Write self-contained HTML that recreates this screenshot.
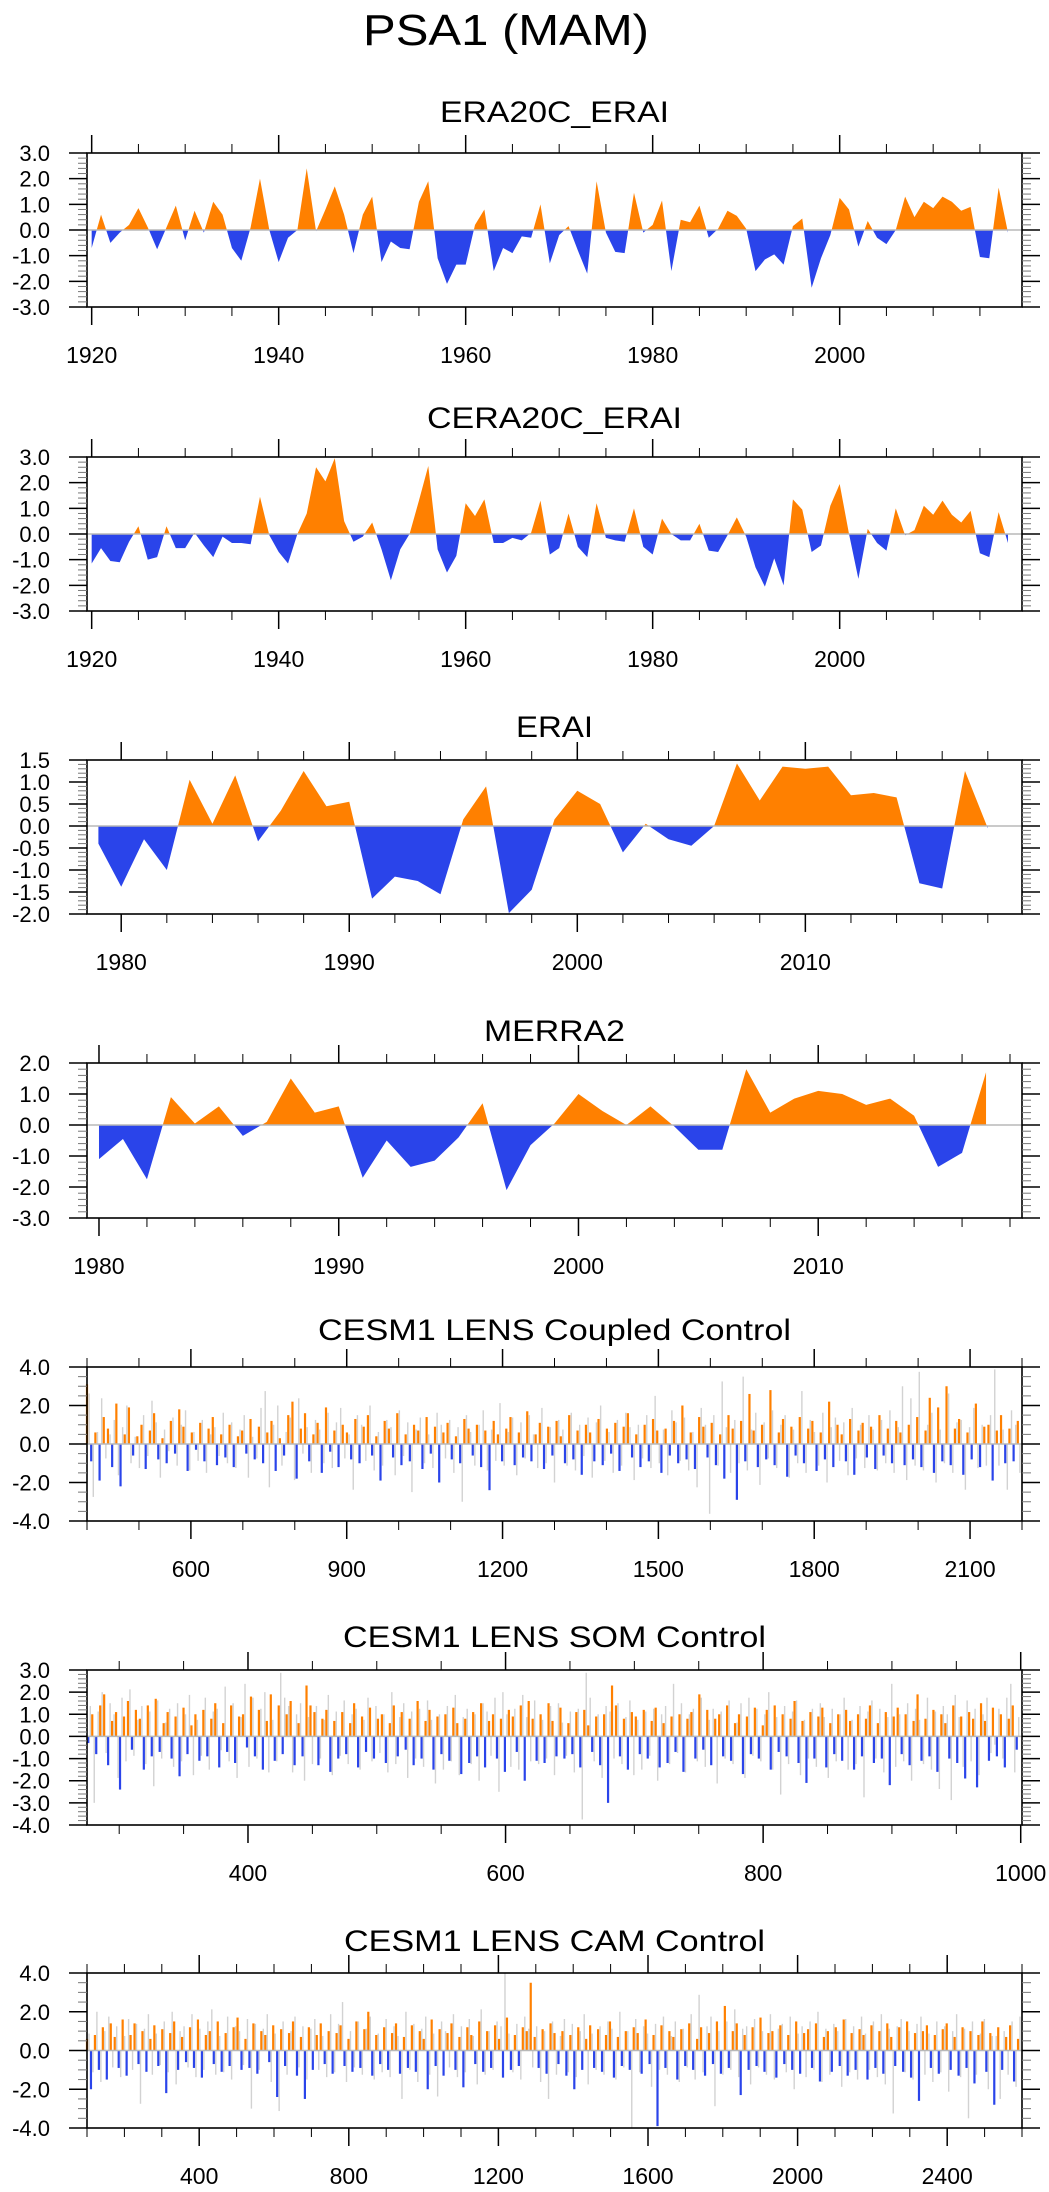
<!DOCTYPE html>
<html><head><meta charset="utf-8"><title>PSA1 (MAM)</title>
<style>
html,body{margin:0;padding:0;background:#fff;}
svg{display:block;font-family:"Liberation Sans",Arial,sans-serif;}
</style></head>
<body>
<svg id="fig" width="1049" height="2192" viewBox="0 0 1049 2192" xmlns="http://www.w3.org/2000/svg">
<text x="506" y="45" font-size="44" text-anchor="middle" textLength="286" lengthAdjust="spacingAndGlyphs">PSA1 (MAM)</text>
</svg>
<script>
// ---- data ----
const era20cYears = [1920, 2018];
const era20cValues = [-0.7,0.6,-0.5,-0.1,0.2,0.85,0.1,-0.75,0.1,0.95,-0.4,0.75,-0.1,1.1,0.6,-0.7,-1.2,0.1,2.0,0.0,-1.25,-0.3,0.0,2.4,-0.05,0.8,1.7,0.6,-0.9,0.6,1.3,-1.25,-0.45,-0.7,-0.75,1.1,1.9,-1.1,-2.1,-1.35,-1.35,0.2,0.8,-1.6,-0.7,-0.9,-0.25,-0.3,1.0,-1.3,-0.2,0.15,-0.8,-1.7,1.9,-0.1,-0.85,-0.9,1.45,-0.1,0.2,1.15,-1.6,0.4,0.3,0.95,-0.3,0.05,0.75,0.55,0.05,-1.6,-1.15,-0.95,-1.35,0.15,0.45,-2.25,-1.1,-0.2,1.25,0.8,-0.65,0.35,-0.3,-0.55,0.0,1.3,0.5,1.1,0.85,1.3,1.1,0.75,0.9,-1.05,-1.1,1.65,-0.1];
const cera20cYears = [1920, 2018];
const cera20cValues = [-1.15,-0.55,-1.05,-1.1,-0.3,0.3,-1.0,-0.9,0.3,-0.55,-0.55,0.05,-0.45,-0.9,-0.1,-0.35,-0.35,-0.4,1.45,-0.05,-0.7,-1.15,0.0,0.8,2.6,2.05,2.95,0.5,-0.3,-0.1,0.45,-0.6,-1.8,-0.6,0.0,1.3,2.65,-0.6,-1.5,-0.85,1.2,0.7,1.35,-0.35,-0.35,-0.15,-0.25,0.05,1.3,-0.8,-0.55,0.8,-0.5,-0.9,1.2,-0.15,-0.25,-0.3,1.0,-0.5,-0.8,0.6,0.0,-0.25,-0.25,0.4,-0.65,-0.7,-0.05,0.65,-0.1,-1.3,-2.05,-0.95,-2.0,1.35,0.95,-0.7,-0.45,1.1,1.95,0.0,-1.75,0.2,-0.35,-0.65,1.0,-0.05,0.15,1.1,0.75,1.3,0.75,0.45,0.9,-0.75,-0.9,0.85,-0.35];
const eraiYears = [1979, 2018];
const eraiValues = [-0.4,-1.38,-0.3,-1.0,1.05,0.05,1.15,-0.35,0.35,1.25,0.45,0.55,-1.65,-1.15,-1.25,-1.55,0.15,0.9,-1.98,-1.45,0.15,0.8,0.5,-0.6,0.05,-0.3,-0.45,0.0,1.42,0.58,1.35,1.3,1.35,0.7,0.75,0.65,-1.3,-1.42,1.25,-0.05];
const merra2Years = [1980, 2017];
const merra2Values = [-1.1,-0.45,-1.75,0.9,0.05,0.6,-0.35,0.1,1.5,0.4,0.6,-1.7,-0.5,-1.35,-1.15,-0.4,0.7,-2.1,-0.65,0.05,1.0,0.45,0.0,0.6,-0.05,-0.8,-0.8,1.8,0.4,0.85,1.1,1.0,0.65,0.85,0.3,-1.35,-0.9,1.7];
const coupledYears = [400, 2200];
const coupledValues = [3.1,-0.9,0.6,-1.9,1.4,0.8,-1.2,2.1,-2.2,0.5,1.9,-0.6,0.4,1.0,-1.3,0.7,1.6,-0.8,0.3,-1.0,1.2,-0.5,1.8,0.9,-1.4,0.6,-0.3,1.1,-0.9,0.8,1.4,-1.1,0.5,-0.7,1.0,-1.2,0.4,0.7,-0.5,1.3,-0.8,0.9,-1.0,0.6,1.2,-1.4,0.3,-0.6,1.5,2.2,-1.8,0.8,1.6,-0.9,0.5,1.1,-1.5,1.9,-0.4,0.7,-1.2,1.0,0.6,-0.8,1.3,-1.0,0.9,1.5,-0.6,0.4,-1.9,1.2,0.8,-0.7,1.6,-1.1,0.5,-0.9,1.0,0.7,-1.3,1.4,-0.5,0.9,-2.0,0.6,1.1,-0.8,0.4,-1.0,1.3,0.8,-0.6,1.0,-1.2,0.7,-2.4,1.2,0.5,-0.9,0.8,1.4,-1.1,0.6,-0.7,1.7,-0.9,0.5,1.1,-1.3,0.9,-0.6,1.2,0.4,-1.0,1.5,-0.8,0.7,-1.6,1.0,0.6,-0.9,1.3,-1.1,0.8,-0.5,1.1,-1.4,0.9,1.6,-0.7,0.5,-1.2,1.0,-0.9,1.3,0.7,-1.5,0.8,-0.6,1.2,-1.0,2.0,-0.8,0.6,-1.3,1.4,0.9,-0.7,1.1,-1.1,0.5,-1.8,1.5,0.8,-2.9,1.2,-0.9,2.6,0.7,-1.2,1.0,-0.8,2.8,-1.1,0.6,1.3,-1.7,0.9,-0.6,1.4,-1.0,0.8,1.2,-1.4,0.6,-0.8,2.2,-1.2,1.0,0.5,-0.9,1.3,-1.6,0.7,1.1,-0.7,0.9,-1.3,1.5,-0.6,0.8,-1.0,1.2,0.6,-1.1,1.0,-0.8,1.4,-1.2,0.7,2.4,-1.5,1.9,-0.9,3.0,-1.1,0.8,1.3,-1.6,0.6,-0.8,2.1,-1.2,0.9,1.0,-1.9,0.7,1.5,-1.0,0.8,-0.9,1.2];
const somYears = [276, 1000];
const somValues = [-0.3,1.0,-0.8,1.4,1.9,-1.3,0.7,1.1,-2.4,0.9,1.6,-0.6,1.2,0.8,-1.5,1.4,-0.9,1.7,-0.7,0.6,1.1,-1.0,0.9,-1.8,1.3,-0.8,0.5,1.0,-1.1,1.2,-0.9,0.8,1.5,-1.4,0.6,-0.7,1.4,-1.2,0.9,1.0,-0.5,1.8,-0.9,1.2,-1.5,0.7,1.9,-1.1,1.4,-0.8,1.0,1.6,-1.3,0.6,-0.9,2.3,1.4,1.1,-1.3,0.8,1.2,-1.6,0.7,-1.0,1.1,-0.8,0.6,1.5,-1.4,0.9,-0.7,1.3,-1.0,0.8,1.0,-1.2,0.6,1.4,-0.9,1.1,-0.6,0.8,-1.3,1.6,-1.0,0.7,1.2,-1.5,0.9,-0.8,1.0,-1.1,1.3,0.6,-1.7,0.8,-1.2,1.1,-0.9,1.5,-1.4,0.7,1.0,-1.0,0.8,-1.6,1.2,0.9,-0.7,1.4,-2.0,1.6,0.8,-1.1,1.0,-1.2,1.5,0.7,-0.9,1.3,-1.0,0.6,-0.8,1.1,-1.4,1.2,0.5,-0.7,0.9,-1.3,1.0,-3.0,2.3,1.4,-0.9,0.8,-1.5,1.1,0.9,-0.8,1.2,-1.0,0.7,1.3,-1.4,0.6,-1.2,0.9,-0.7,1.0,-1.6,0.8,1.1,-1.0,1.9,-0.6,1.2,-1.3,0.8,1.0,-0.9,1.4,-1.1,0.6,1.0,-1.7,0.9,-0.8,1.3,-1.0,0.5,1.2,-1.5,1.4,-0.7,1.0,-0.9,0.8,1.6,-1.2,0.7,-2.1,1.1,-1.0,0.9,1.3,-1.4,0.6,-0.8,1.0,-1.1,1.2,0.7,-1.5,1.0,-0.9,0.8,1.4,-1.2,0.6,-1.0,1.1,-2.2,0.9,1.3,-0.8,1.0,-1.3,0.7,1.9,-1.1,0.8,-0.9,1.2,-1.6,1.0,0.6,-1.0,1.4,-1.2,0.9,-1.9,1.1,0.8,-2.3,1.5,0.7,-1.1,1.3,-0.9,1.0,-1.4,0.8,1.4,-0.6];
const camYears = [100, 2600];
const camValues = [0.6,-2.0,0.8,-1.0,1.2,-1.5,1.4,0.7,-0.9,1.6,-1.3,0.8,1.4,-0.7,1.0,-1.1,0.6,1.3,-0.8,1.1,-2.2,0.9,1.5,-1.0,0.7,-0.6,1.2,-0.9,1.6,-1.4,0.8,1.0,-0.7,1.5,-1.1,0.9,-0.8,1.2,1.7,-1.0,0.6,-0.9,1.4,-1.2,1.0,0.8,-0.6,1.3,-2.4,1.1,-0.8,0.9,1.5,-1.3,0.7,-2.5,1.2,-1.0,0.8,1.4,-0.7,1.0,-1.2,0.9,1.3,-0.8,0.6,-1.1,1.5,-0.9,1.1,2.0,-1.3,0.8,-0.7,1.2,-1.0,0.9,1.4,-1.2,0.7,-0.9,1.3,-1.1,1.0,0.6,-2.0,1.6,-0.8,1.1,-1.3,0.9,1.4,-1.0,0.7,-1.9,1.2,0.8,-0.7,1.5,-1.1,1.0,-0.9,1.3,0.6,-1.4,1.7,-1.0,0.8,-0.8,1.2,1.0,3.5,0.7,-0.9,1.1,-1.2,1.4,0.9,-0.7,1.0,-1.3,0.8,-2.0,1.2,-1.0,0.6,1.3,-0.9,1.1,-1.1,0.8,1.5,-1.4,0.7,-0.8,1.0,-1.0,1.2,0.9,-1.2,1.6,-0.7,0.8,-3.9,1.3,-0.9,1.0,0.7,-1.5,1.1,-0.8,1.4,-1.0,0.6,1.2,-1.3,0.9,-0.7,1.5,-1.2,2.3,-0.9,1.0,1.4,-2.3,0.8,-1.0,1.2,-0.8,1.7,-1.1,0.9,1.0,-1.4,1.3,-0.7,0.8,-1.0,1.5,-1.2,0.9,1.1,-0.9,1.4,-1.6,0.7,1.0,-1.1,1.2,-0.8,1.6,-1.3,0.9,-1.0,1.1,0.8,-1.5,1.3,-0.9,1.0,-1.2,1.4,0.7,-0.8,1.2,-1.1,1.5,-1.4,0.9,-2.6,1.0,1.3,-0.9,0.8,-1.2,1.1,1.4,-1.0,0.7,-1.3,1.2,-0.9,1.0,-1.7,0.8,1.5,-1.1,0.9,-2.8,1.2,-1.0,0.7,1.3,-1.6,0.6];

// ---- layout ----
const NS = "http://www.w3.org/2000/svg";
const svg = document.getElementById('fig');
const L = 87, R = 1022;
const ORANGE = "#ff8000", BLUE = "#2a44ea";
function mk(tag, attrs, parent) {
  const e = document.createElementNS(NS, tag);
  for (const k in attrs) e.setAttribute(k, attrs[k]);
  (parent || svg).appendChild(e);
  return e;
}
const panels = [
  {id:'era20c-erai', title:'ERA20C_ERAI', tw:229, ty:122, top:153, bot:307, xmin:1919.5, xmax:2019.5, xmaj:20, xmin0:1920, xminor:5, ymin:-3, ymax:3, ymaj:1, yminor:0.2, yfmt:1, yrs:era20cYears, vals:era20cValues, type:'area'},
  {id:'cera20c-erai', title:'CERA20C_ERAI', tw:255, ty:428, top:457, bot:611, xmin:1919.5, xmax:2019.5, xmaj:20, xmin0:1920, xminor:5, ymin:-3, ymax:3, ymaj:1, yminor:0.2, yfmt:1, yrs:cera20cYears, vals:cera20cValues, type:'area'},
  {id:'erai', title:'ERAI', tw:77, ty:737, top:760, bot:914, xmin:1978.5, xmax:2019.5, xmaj:10, xmin0:1980, xminor:2, ymin:-2, ymax:1.5, ymaj:0.5, yminor:0.1, yfmt:1, yrs:eraiYears, vals:eraiValues, type:'area'},
  {id:'merra2', title:'MERRA2', tw:141, ty:1041, top:1063, bot:1218, xmin:1979.5, xmax:2018.5, xmaj:10, xmin0:1980, xminor:2, ymin:-3, ymax:2, ymaj:1, yminor:0.2, yfmt:1, yrs:merra2Years, vals:merra2Values, type:'area'},
  {id:'coupled-control', title:'CESM1 LENS Coupled Control', tw:473, ty:1340, top:1367, bot:1521, xmin:400, xmax:2200, xmaj:300, xmin0:600, xminor:100, ymin:-4, ymax:4, ymaj:2, yminor:0.5, yfmt:1, yrs:coupledYears, vals:coupledValues, type:'bar'},
  {id:'som-control', title:'CESM1 LENS SOM Control', tw:423, ty:1647, top:1670, bot:1825, xmin:275, xmax:1001, xmaj:200, xmin0:400, xminor:50, ymin:-4, ymax:3, ymaj:1, yminor:0.2, yfmt:1, yrs:somYears, vals:somValues, type:'bar'},
  {id:'cam-control', title:'CESM1 LENS CAM Control', tw:421, ty:1951, top:1973, bot:2128, xmin:100, xmax:2600, xmaj:400, xmin0:400, xminor:100, ymin:-4, ymax:4, ymaj:2, yminor:0.5, yfmt:1, yrs:camYears, vals:camValues, type:'bar'}
];

panels.forEach((p, pi) => {
  const g = mk('g', {});
  
  
  const xs = v => L + (v - p.xmin) / (p.xmax - p.xmin) * (R - L);
  const ys = v => p.bot - (v - p.ymin) / (p.ymax - p.ymin) * (p.bot - p.top);
  const z = ys(0);

  const t = mk('text', {x: (L + R) / 2, y: p.ty, 'font-size': 30, 'text-anchor': 'middle', textLength: p.tw, lengthAdjust: 'spacingAndGlyphs'}, g);
  t.textContent = p.title;
  
  

  const cidA = 'ca' + pi, cidB = 'cb' + pi;
  const defs = mk('defs', {}, g);
  const c1 = mk('clipPath', {id: cidA}, defs); mk('rect', {x: L, y: p.top, width: R - L, height: z - p.top}, c1);
  const c2 = mk('clipPath', {id: cidB}, defs); mk('rect', {x: L, y: z, width: R - L, height: p.bot - z}, c2);

  const n = p.vals.length;
  const series = mk('g', {}, g);
  
  
  if (p.type === 'area') {
    const step = (p.yrs[1] - p.yrs[0]) / (n - 1);
    let d = 'M' + xs(p.yrs[0]) + ',' + z;
    p.vals.forEach((v, i) => { d += ' L' + xs(p.yrs[0] + i * step).toFixed(2) + ',' + ys(v).toFixed(2); });
    d += ' L' + xs(p.yrs[1]) + ',' + z + ' Z';
    const pa = mk('path', {d: d, fill: ORANGE, 'clip-path': 'url(#' + cidA + ')'}, series);
    
    
    const pb = mk('path', {d: d, fill: BLUE, 'clip-path': 'url(#' + cidB + ')'}, series);
    
    
  } else {
    const step = (p.yrs[1] - p.yrs[0]) / n;
    p.vals.forEach((v, i) => {
      const w = p.vals[(i + 7) % n] * 1.25;
      const x = xs(p.yrs[0] + (i + 0.5) * step);
      const gl = mk('line', {x1: x, x2: x, y1: z, y2: ys(Math.max(p.ymin, Math.min(p.ymax, w))), stroke: '#d2d2d2', 'stroke-width': 1.4}, series);
      
      
    });
    p.vals.forEach((v, i) => {
      const x = xs(p.yrs[0] + i * step);
      const b = mk('line', {x1: x, x2: x, y1: z, y2: ys(v), stroke: v >= 0 ? ORANGE : BLUE, 'stroke-width': 2.2}, series);
      
      
    });
  }
  const zl = mk('line', {x1: L, x2: R, y1: z, y2: z, stroke: '#b8b8b8', 'stroke-width': 1.5}, g);
  
  

  const box = mk('rect', {x: L, y: p.top, width: R - L, height: p.bot - p.top, fill: 'none', stroke: '#000', 'stroke-width': 1.6}, g);
  
  

  const yax = mk('g', {}, g);
  
  
  const nMin = Math.round((p.ymax - p.ymin) / p.yminor);
  for (let k = 0; k <= nMin; k++) {
    const v = p.ymin + k * p.yminor;
    const isMaj = Math.abs(v / p.ymaj - Math.round(v / p.ymaj)) < 1e-6;
    const y = ys(v), len = isMaj ? 18 : 9, col = isMaj ? '#000' : '#777';
    mk('line', {x1: L - len, x2: L, y1: y, y2: y, stroke: col, 'stroke-width': isMaj ? 1.5 : 1}, yax);
    mk('line', {x1: R, x2: R + len, y1: y, y2: y, stroke: col, 'stroke-width': isMaj ? 1.5 : 1}, yax);
    if (isMaj) {
      const lt = mk('text', {x: 50, y: y + 8, 'font-size': 22, 'text-anchor': 'end'}, yax);
      lt.textContent = (Math.abs(v) < 1e-9 ? 0 : v).toFixed(p.yfmt);
      
      
    }
  }
  const xax = mk('g', {}, g);
  
  
  const first = Math.ceil(p.xmin / p.xminor) * p.xminor;
  for (let v = first; v <= p.xmax + 1e-9; v += p.xminor) {
    const isMaj = ((v - p.xmin0) % p.xmaj + p.xmaj) % p.xmaj === 0;
    const x = xs(v), len = isMaj ? 18 : 9;
    mk('line', {x1: x, x2: x, y1: p.top - len, y2: p.top, stroke: '#000', 'stroke-width': isMaj ? 1.5 : 1}, xax);
    mk('line', {x1: x, x2: x, y1: p.bot, y2: p.bot + len, stroke: '#000', 'stroke-width': isMaj ? 1.5 : 1}, xax);
    if (isMaj && v >= p.xmin0) {
      const lt = mk('text', {x: x, y: p.bot + 56, 'font-size': 23, 'text-anchor': 'middle'}, xax);
      lt.textContent = v;
      
      
    }
  }
});
</script>
</body></html>
